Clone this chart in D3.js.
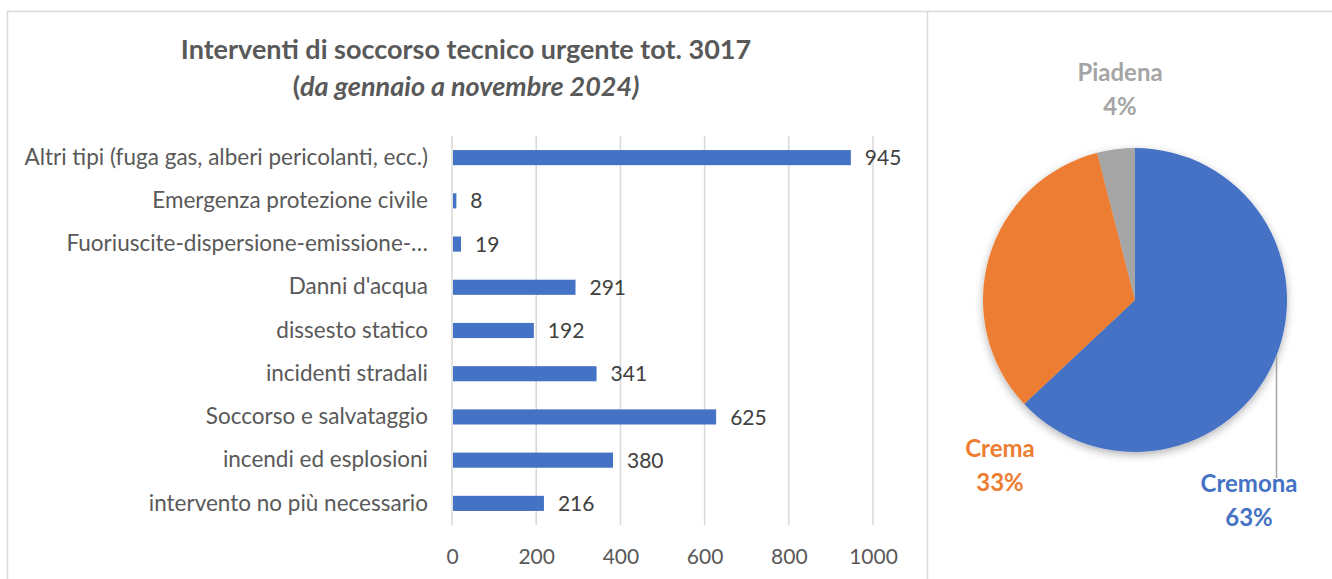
<!DOCTYPE html>
<html>
<head>
<meta charset="utf-8">
<script src="https://cdn.jsdelivr.net/npm/d3@7"></script>
<style>
  body { margin: 0; background: #fff; }
  svg { display: block; font-family: Lato, "Open Sans", sans-serif; }
</style>
</head>
<body>
<script>
const width = 1332, height = 579;

// bar chart data (top to bottom)
const categories = [
  'Altri tipi (fuga gas, alberi pericolanti, ecc.)',
  'Emergenza protezione civile',
  'Fuoriuscite-dispersione-emissione-…',
  "Danni d'acqua",
  'dissesto statico',
  'incidenti stradali',
  'Soccorso e salvataggio',
  'incendi ed esplosioni',
  'intervento no più necessario'
];
const counts = [945, 8, 19, 291, 192, 341, 625, 380, 216];
const xTicks = [0, 200, 400, 600, 800, 1000];

// pie data
const zones = ['Cremona', 'Crema', 'Piadena'];
const shares = [63, 33, 4];
const zoneColors = ['#4472c4', '#ed7d31', '#a5a5a5'];

const svg = d3.select('body').append('svg')
  .attr('width', width)
  .attr('height', height);

const defs = svg.append('defs');
const shadow = defs.append('filter').attr('id', 'pieShadow')
  .attr('x', '-20%').attr('y', '-20%').attr('width', '140%').attr('height', '140%');
shadow.append('feDropShadow')
  .attr('dx', 0).attr('dy', 3).attr('stdDeviation', 4)
  .attr('flood-color', '#000').attr('flood-opacity', 0.3);

// panel borders
svg.append('path')
  .attr('d', `M7.5,${height} V11.5 H${width} M927.5,11.5 V${height}`)
  .attr('fill', 'none')
  .attr('stroke', '#d9d9d9')
  .attr('stroke-width', 1.5);

// ---- bar chart ----
const x = d3.scaleLinear().domain([0, 1000]).range([452, 873]);
const y = d3.scaleBand().domain(categories).range([136, 525]).paddingInner(0.65).paddingOuter(0.325);

svg.append('g')
  .attr('stroke', '#d9d9d9')
  .attr('stroke-width', 1.5)
  .selectAll('line')
  .data(xTicks)
  .join('line')
  .attr('x1', d => x(d)).attr('x2', d => x(d))
  .attr('y1', 136).attr('y2', 525);

svg.append('g')
  .selectAll('rect')
  .data(counts)
  .join('rect')
  .attr('x', x(0) + 1)
  .attr('y', (d, i) => y(categories[i]))
  .attr('width', d => x(d) - x(0))
  .attr('height', y.bandwidth())
  .attr('fill', '#4472c4');

svg.append('g')
  .selectAll('text')
  .data(counts)
  .join('text')
  .attr('x', d => x(d) + 15)
  .attr('y', (d, i) => y(categories[i]) + y.bandwidth() / 2)
  .attr('dy', '0.36em')
  .attr('font-size', 21)
  .attr('fill', '#404040')
  .text(d => d);

const xAxis = svg.append('g')
  .attr('transform', 'translate(0,549)')
  .call(d3.axisBottom(x).tickValues(xTicks).tickFormat(d3.format('d')).tickSize(0).tickPadding(0));
xAxis.select('.domain').remove();
xAxis.selectAll('text')
  .attr('font-size', 21)
  .attr('font-family', 'Lato, sans-serif')
  .attr('fill', '#595959');

const yAxis = svg.append('g')
  .attr('transform', `translate(${x(0) - 24},0)`)
  .call(d3.axisLeft(y).tickSize(0).tickPadding(0));
yAxis.select('.domain').remove();
yAxis.selectAll('text')
  .attr('font-size', 22.5)
  .attr('font-family', 'Lato, sans-serif')
  .attr('fill', '#595959');

const title = svg.append('text')
  .attr('x', 466)
  .attr('text-anchor', 'middle')
  .attr('font-size', 27)
  .attr('font-weight', 'bold')
  .attr('fill', '#595959');
title.append('tspan').attr('x', 466).attr('y', 59)
  .text('Interventi di soccorso tecnico urgente tot. 3017');
const sub = title.append('tspan').attr('x', 466).attr('y', 96);
sub.append('tspan').text('(');
sub.append('tspan').attr('font-style', 'italic').text('da gennaio a novembre 2024)');

// ---- pie chart ----
const cx = 1135, cy = 300, r = 152;
const pie = d3.pie().sort(null).value(d => d)(shares);
const arc = d3.arc().innerRadius(0).outerRadius(r);

svg.append('g')
  .attr('transform', `translate(${cx},${cy})`)
  .attr('filter', 'url(#pieShadow)')
  .selectAll('path')
  .data(pie)
  .join('path')
  .attr('d', arc)
  .attr('fill', (d, i) => zoneColors[i]);

// leader line for Cremona
svg.append('line')
  .attr('x1', 1276.5).attr('x2', 1276.5)
  .attr('y1', 356).attr('y2', 478)
  .attr('stroke', '#a6a6a6')
  .attr('stroke-width', 1.5);

const labelPos = [[1249, 492], [1000, 457], [1120, 81]];
const pieLabels = svg.append('g')
  .selectAll('text')
  .data(zones)
  .join('text')
  .attr('text-anchor', 'middle')
  .attr('font-size', 24)
  .attr('font-weight', 'bold')
  .attr('fill', (d, i) => zoneColors[i]);
pieLabels.append('tspan')
  .attr('x', (d, i) => labelPos[i][0])
  .attr('y', (d, i) => labelPos[i][1])
  .text(d => d);
pieLabels.append('tspan')
  .attr('x', (d, i) => labelPos[i][0])
  .attr('y', (d, i) => labelPos[i][1] + 34)
  .text((d, i) => shares[i] + '%');
</script>
</body>
</html>
